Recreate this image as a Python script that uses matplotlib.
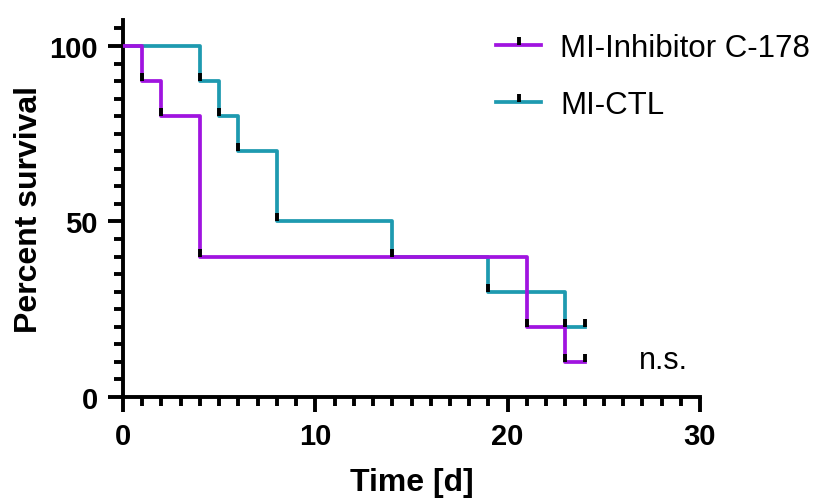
import numpy as np
import matplotlib
matplotlib.use("Agg")
import matplotlib.pyplot as plt
from matplotlib.ticker import MultipleLocator

plt.rcParams['font.family'] = ['Liberation Sans', 'DejaVu Sans']

## Kaplan-Meier data
inh_t = [0, 1, 2, 4, 21, 23, 24]
inh_s = [100, 90, 80, 40, 20, 10, 10]
ctl_t = [0, 4, 5, 6, 8, 14, 19, 23, 24]
ctl_s = [100, 90, 80, 70, 50, 40, 30, 20, 20]

labels = ['MI-Inhibitor C-178', 'MI-CTL']
purple = '#A014E0'
teal = '#1E9AB0'

tick_mark = [(0, 0), (0, 1)]
LW = 2.7

fig = plt.figure(figsize=(8.14, 5.02), dpi=100)
ax = fig.add_axes([123/814, 1-398/502, (700-123)/814, (398-21)/502])

ax.step(ctl_t, ctl_s, where='post', color=teal, lw=LW, zorder=2)
ax.step(inh_t, inh_s, where='post', color=purple, lw=LW, zorder=3)
ax.plot(ctl_t[1:], ctl_s[1:], ls='none', marker=tick_mark, ms=11, mew=2.8, mec='black', zorder=4)
ax.plot(inh_t[1:], inh_s[1:], ls='none', marker=tick_mark, ms=11, mew=2.8, mec='black', zorder=4)

# legend handles
h1, = ax.plot([], [], color=purple, lw=LW, marker=tick_mark, ms=11, mew=2.8, mec='black')
h2, = ax.plot([], [], color=teal, lw=LW, marker=tick_mark, ms=11, mew=2.8, mec='black')
fig.legend([h1, h2], labels, loc='upper left', bbox_to_anchor=(496/814, 1-34/502),
           frameon=False, fontsize=22.5, handlelength=1.45, handletextpad=0.6,
           labelspacing=0.86, borderpad=0, borderaxespad=0, numpoints=1)

ax.text(28.1, 10.5, 'n.s.', fontsize=22, ha='center', va='center')

ax.set_xlim(0, 30)
ax.set_ylim(0, 107.4)
ax.set_xticks([0, 10, 20, 30])
ax.set_yticks([0, 50, 100])
ax.xaxis.set_minor_locator(MultipleLocator(1))
ax.yaxis.set_minor_locator(MultipleLocator(5))
for s in ['top', 'right']:
    ax.spines[s].set_visible(False)
for s in ['left', 'bottom']:
    ax.spines[s].set_linewidth(2.8)
ax.tick_params(which='major', length=11, width=2.8, labelsize=21, pad=7)
ax.tick_params(which='minor', length=6.5, width=2.8)
for lab in ax.get_xticklabels() + ax.get_yticklabels():
    lab.set_fontweight('bold')

ax.set_xlabel('Time [d]', fontsize=23, fontweight='bold', labelpad=12)
ax.set_ylabel('Percent survival', fontsize=23, fontweight='bold', labelpad=4)

fig.savefig('out.png', dpi=100)
